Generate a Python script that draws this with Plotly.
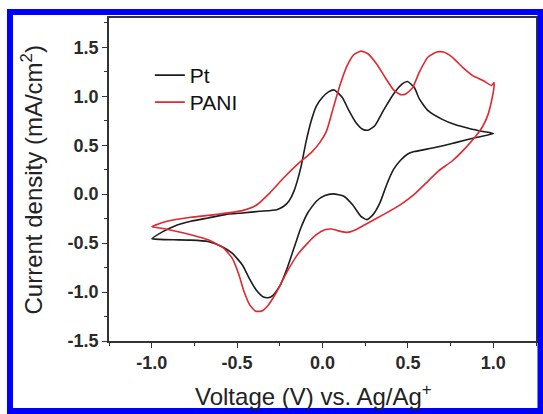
import plotly.graph_objects as go

# Pt (black) cyclic voltammogram: anodic branch then cathodic branch
pt_v = [-0.998, -0.932, -0.871, -0.771, -0.670, -0.569, -0.469, -0.368, -0.268, -0.227, -0.197,
        -0.167, -0.127, -0.097, -0.066, -0.036, 0.000, 0.035, 0.068, 0.115, 0.155, 0.195, 0.235, 0.266,
        0.306, 0.356, 0.416, 0.467, 0.497, 0.537, 0.567, 0.618, 0.698, 0.779, 0.859, 0.940, 1.000,
        0.899, 0.779, 0.658, 0.537, 0.497, 0.457, 0.416, 0.376, 0.336, 0.296, 0.260, 0.225, 0.175,
        0.125, 0.064, 0.014, -0.036, -0.087, -0.127, -0.167, -0.207, -0.247, -0.288, -0.318, -0.348,
        -0.388, -0.429, -0.469, -0.529, -0.590, -0.670, -0.771, -0.871, -0.952, -0.998]
pt_j = [-0.455, -0.380, -0.329, -0.277, -0.243, -0.209, -0.192, -0.175, -0.158, -0.123, -0.072,
        0.031, 0.271, 0.530, 0.750, 0.900, 0.990, 1.045, 1.065, 0.990, 0.853, 0.733, 0.664, 0.654,
        0.699, 0.853, 1.024, 1.127, 1.151, 1.092, 0.973, 0.853, 0.767, 0.709, 0.671, 0.640, 0.620,
        0.579, 0.527, 0.476, 0.435, 0.408, 0.346, 0.253, 0.099, -0.089, -0.209, -0.260, -0.226, -0.106,
        -0.021, 0.003, -0.014, -0.072, -0.192, -0.346, -0.551, -0.757, -0.928, -1.031, -1.058, -1.048,
        -0.979, -0.860, -0.723, -0.603, -0.534, -0.483, -0.469, -0.466, -0.462, -0.455]

# PANI (red) cyclic voltammogram
pani_v = [-0.998, -0.911, -0.771, -0.630, -0.469, -0.388, -0.308, -0.227, -0.147, -0.066, -0.016,
          0.024, 0.064, 0.105, 0.145, 0.185, 0.225, 0.266, 0.316, 0.366, 0.416, 0.457, 0.487, 0.527,
          0.567, 0.618, 0.668, 0.708, 0.759, 0.819, 0.879, 0.940, 0.990, 1.004,
          1.004, 0.990, 0.970, 0.940, 0.899, 0.839, 0.759, 0.678, 0.618, 0.537, 0.457, 0.356, 0.256,
          0.195, 0.145, 0.105, 0.054, 0.014, -0.036, -0.087, -0.147, -0.207, -0.268, -0.318, -0.358,
          -0.392, -0.425, -0.459, -0.489, -0.529, -0.579, -0.670, -0.771, -0.871, -0.952, -0.998]
pani_j = [-0.332, -0.277, -0.236, -0.209, -0.168, -0.113, 0.014, 0.168, 0.305, 0.425, 0.527,
          0.647, 0.887, 1.127, 1.315, 1.428, 1.462, 1.435, 1.332, 1.195, 1.065, 1.017, 1.024, 1.086,
          1.247, 1.401, 1.452, 1.452, 1.401, 1.298, 1.212, 1.161, 1.110, 1.140,
          1.092, 0.955, 0.818, 0.699, 0.596, 0.476, 0.339, 0.236, 0.134, -0.003, -0.106, -0.209, -0.305,
          -0.363, -0.390, -0.380, -0.356, -0.363, -0.414, -0.500, -0.620, -0.791, -0.997, -1.134, -1.195,
          -1.195, -1.134, -0.997, -0.825, -0.654, -0.551, -0.466, -0.414, -0.373, -0.346, -0.332]

x_ticks = [-1.0, -0.5, 0.0, 0.5, 1.0]
x_ticktext = ["-1.0", "-0.5", "0.0", "0.5", "1.0"]
x_minor = [-1.25, -0.75, -0.25, 0.25, 0.75, 1.25]
y_ticks = [-1.5, -1.0, -0.5, 0.0, 0.5, 1.0, 1.5]
y_ticktext = ["-1.5", "-1.0", "-0.5", "0.0", "0.5", "1.0", "1.5"]
y_minor = [-1.25, -0.75, -0.25, 0.25, 0.75, 1.25, 1.75]

FONT = "Liberation Sans, Arial, sans-serif"
AX = "#333333"

fig = go.Figure()
fig.add_trace(go.Scatter(x=pt_v, y=pt_j, mode="lines", name="Pt", legend="legend",
                         line=dict(color="#1c1c1c", width=1.6, shape="spline", smoothing=0.5)))
fig.add_trace(go.Scatter(x=pani_v, y=pani_j, mode="lines", name="PANI", legend="legend2",
                         line=dict(color="#e0282f", width=1.6, shape="spline", smoothing=0.5)))

axis_common = dict(showline=True, linecolor=AX, linewidth=1.5, mirror=True,
                   ticks="outside", ticklen=5, tickwidth=1.3, tickcolor=AX,
                   showgrid=False, zeroline=False,
                   tickfont=dict(family=FONT, size=18, color="#2a2a2a", weight="bold"))

fig.update_xaxes(range=[-1.25, 1.25], tickmode="array", tickvals=x_ticks, ticktext=x_ticktext,
                 minor=dict(tickmode="array", tickvals=x_minor, ticklen=3, tickcolor=AX, ticks="outside"),
                 **axis_common)
fig.update_yaxes(range=[-1.5, 1.8], tickmode="array", tickvals=y_ticks, ticktext=y_ticktext,
                 minor=dict(tickmode="array", tickvals=y_minor, ticklen=3, tickcolor=AX, ticks="outside"),
                 **axis_common)

fig.add_annotation(text="Current density (mA/cm<sup>2</sup>)", xref="paper", yref="paper",
                   x=-0.1795, y=0.498, textangle=-90, showarrow=False,
                   xanchor="center", yanchor="middle",
                   font=dict(family=FONT, size=24, color="#222222"))
fig.add_annotation(text="Voltage (V) vs. Ag/Ag<sup>+</sup>", xref="paper", yref="paper",
                   x=0.480, y=-0.168, showarrow=False, xanchor="center", yanchor="middle",
                   font=dict(family=FONT, size=24, color="#222222"))

# blue frame around the figure
fig.add_shape(type="rect", xref="paper", yref="paper",
              x0=-0.2319, x1=1.0105, y0=-0.2167, y1=1.0186,
              line=dict(color="#0000ff", width=6), layer="above")

legend_style = dict(xanchor="left", yanchor="top", bgcolor="rgba(0,0,0,0)", borderwidth=0,
                    font=dict(family=FONT, size=21, color="#111111"))

fig.update_layout(
    width=543, height=414,
    margin=dict(l=109, r=5, t=18, b=73),
    paper_bgcolor="white", plot_bgcolor="white",
    showlegend=True,
    legend=dict(x=0.0956, y=0.8854, **legend_style),
    legend2=dict(x=0.0956, y=0.8019, **legend_style),
)

fig.write_html("out.html")
